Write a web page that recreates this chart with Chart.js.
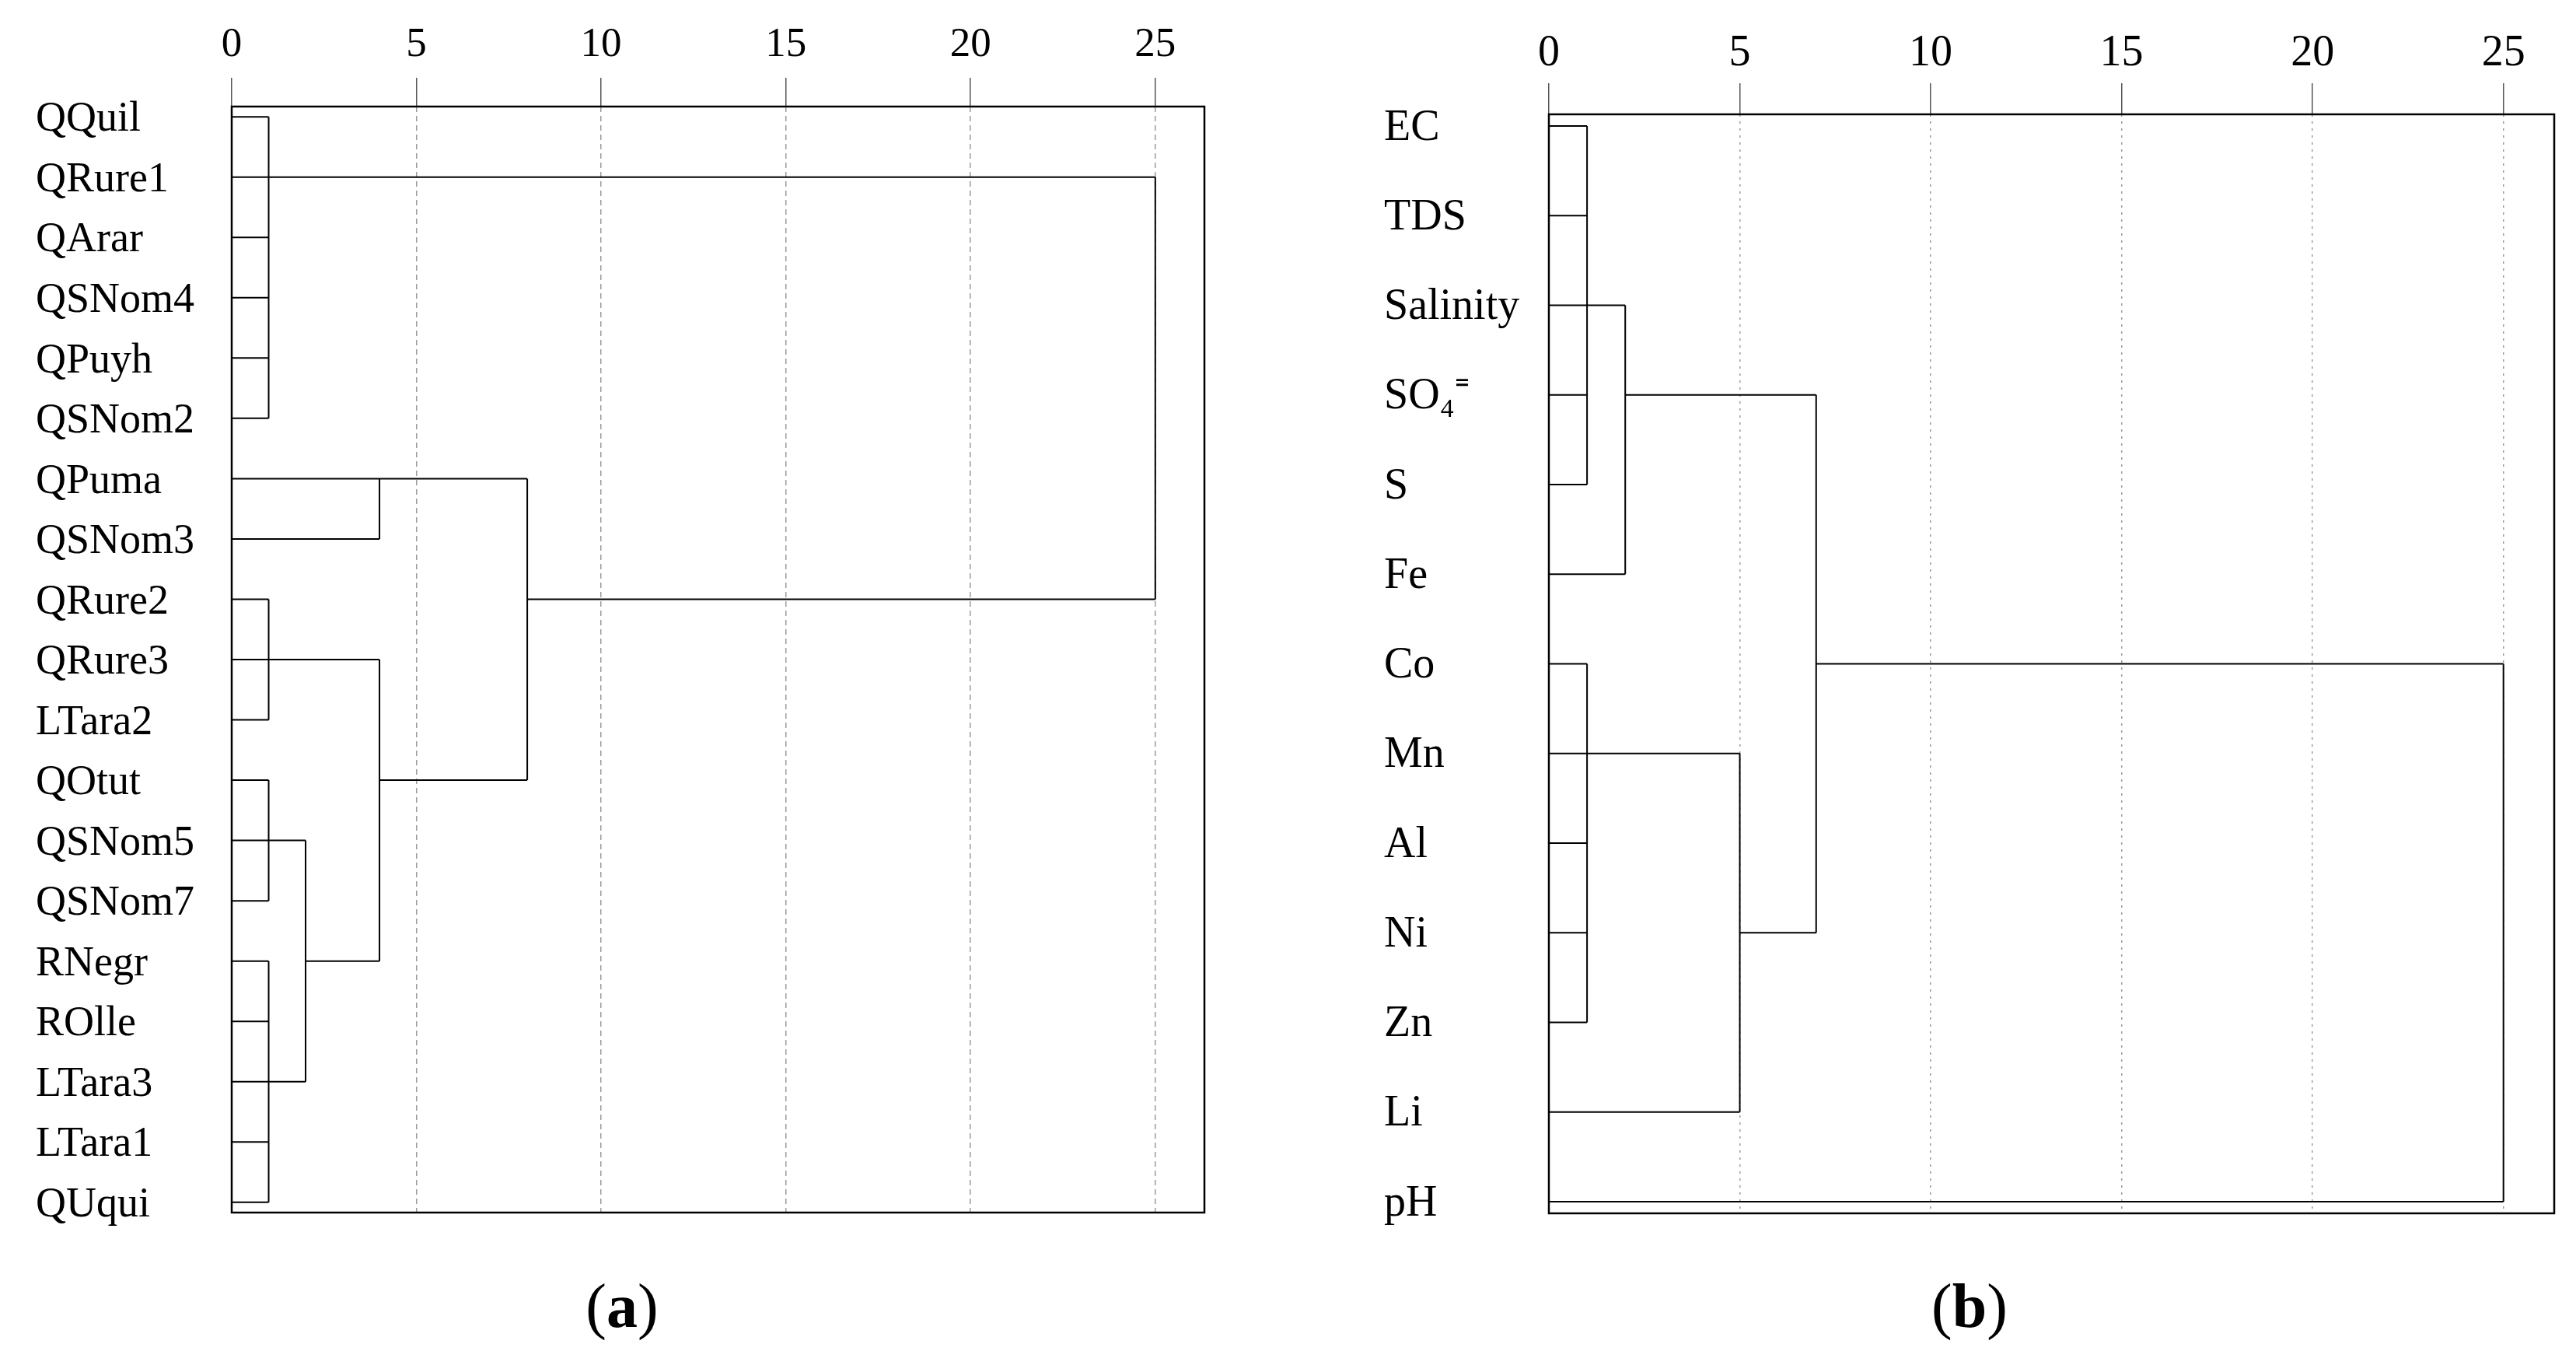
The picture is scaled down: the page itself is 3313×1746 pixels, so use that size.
<!DOCTYPE html>
<html lang="es">
<head>
<meta charset="utf-8">
<title>Dendrogramas</title>
<script src="https://cdn.jsdelivr.net/npm/chart.js@4.4.1/dist/chart.umd.min.js"></script>
<style>
    body { margin: 0; background: #fff; width: 3313px; height: 1746px; position: relative; overflow: hidden; }
    canvas { position: absolute; top: 0; }
    #graficoA { left: 0; }
    #graficoB { left: 1700px; }
    .leyenda {
        position: absolute; top: 1639px; width: 400px; text-align: center;
        font-family: 'Liberation Serif', serif; font-size: 80px; line-height: 80px; color: #000;
    }
</style>
</head>
<body>
<canvas id="graficoA" width="1600" height="1600"></canvas>
<canvas id="graficoB" width="1613" height="1600"></canvas>
<div class="leyenda" style="left:600px">(<b>a</b>)</div>
<div class="leyenda" style="left:2333px">(<b>b</b>)</div>
<script>
// Datos del panel (a): sitios de muestreo
const hojasA = ['QQuil', 'QRure1', 'QArar', 'QSNom4', 'QPuyh', 'QSNom2', 'QPuma', 'QSNom3',
    'QRure2', 'QRure3', 'LTara2', 'QOtut', 'QSNom5', 'QSNom7', 'RNegr', 'ROlle', 'LTara3', 'LTara1', 'QUqui'];
// cada unión: hojas (por nombre) o uniones anteriores (por índice)
const hijosA = [
    ['QQuil', 'QRure1', 'QArar', 'QSNom4', 'QPuyh', 'QSNom2'],
    ['QRure2', 'QRure3', 'LTara2'],
    ['QOtut', 'QSNom5', 'QSNom7'],
    ['RNegr', 'ROlle', 'LTara3', 'LTara1', 'QUqui'],
    ['QPuma', 'QSNom3'],
    [2, 3],
    [1, 5],
    [4, 6],
    [0, 7]
];
const alturasA = [1, 1, 1, 1, 4, 2, 4, 8, 25];
const filasA = [1, 9, 12, 16, 6, 14, 11, 8, null];

// Datos del panel (b): variables
const hojasB = ['EC', 'TDS', 'Salinity', 'SO₄⁼', 'S', 'Fe', 'Co', 'Mn', 'Al', 'Ni', 'Zn', 'Li', 'pH'];
const hijosB = [
    ['EC', 'TDS', 'Salinity', 'SO₄⁼', 'S'],
    ['Co', 'Mn', 'Al', 'Ni', 'Zn'],
    [0, 'Fe'],
    [1, 'Li'],
    [2, 3],
    [4, 'pH']
];
const alturasB = [1, 1, 2, 5, 7, 25];
const filasB = [2, 7, 3, 9, 6, null];

const marcasX = [0, 5, 10, 15, 20, 25];
const maxDistancia = 26.33;

function construirSegmentos(hojas, hijos, alturas, filas) {
    const segmentos = [];
    hijos.forEach((grupo, m) => {
        const h = alturas[m];
        const ys = grupo.map(c => typeof c === 'string' ? hojas.indexOf(c) : filas[c]);
        const xs = grupo.map(c => typeof c === 'string' ? 0 : alturas[c]);
        grupo.forEach((c, k) => {
            segmentos.push([{ x: xs[k], y: ys[k] }, { x: h, y: ys[k] }]);
        });
        segmentos.push([{ x: h, y: Math.min(...ys) }, { x: h, y: Math.max(...ys) }]);
    });
    return segmentos;
}

const marcoPlugin = {
    id: 'marco',
    afterDraw(chart) {
        const { ctx, chartArea } = chart;
        ctx.save();
        ctx.strokeStyle = '#000';
        ctx.lineWidth = 2.5;
        ctx.strokeRect(chartArea.left, chartArea.top, chartArea.right - chartArea.left, chartArea.bottom - chartArea.top);
        ctx.restore();
    }
};

function crearDendrograma(canvasId, hojas, hijos, alturas, filas, conf) {
    const segmentos = construirSegmentos(hojas, hijos, alturas, filas);
    const datasets = segmentos.map(s => ({
        data: s,
        showLine: true,
        borderColor: '#000',
        borderWidth: 2,
        pointRadius: 0,
        clip: false
    }));

    return new Chart(document.getElementById(canvasId), {
        type: 'scatter',
        data: { datasets },
        plugins: [marcoPlugin],
        options: {
            responsive: false,
            animation: false,
            devicePixelRatio: 1,
            events: [],
            layout: { padding: conf.relleno },
            plugins: { legend: { display: false }, tooltip: { enabled: false } },
            scales: {
                x: {
                    type: 'linear',
                    position: 'top',
                    min: 0,
                    max: maxDistancia,
                    afterBuildTicks: scale => { scale.ticks = marcasX.map(v => ({ value: v })); },
                    afterFit: scale => { scale.height = conf.altoEje; scale.paddingLeft = 0; scale.paddingRight = 0; },
                    ticks: {
                        color: '#000',
                        padding: conf.rellenoMarcas,
                        maxRotation: 0,
                        font: { family: 'Liberation Serif', size: conf.fuenteMarcas }
                    },
                    grid: {
                        color: '#9a9a9a',
                        lineWidth: 1.5,
                        tickLength: conf.largoMarca,
                        tickColor: '#555',
                        tickWidth: 1.5
                    },
                    border: { display: false, dash: conf.guiones }
                },
                y: {
                    type: 'linear',
                    reverse: true,
                    min: -conf.margenFila,
                    max: hojas.length - 1 + conf.margenFila,
                    afterBuildTicks: scale => { scale.ticks = hojas.map((_, i) => ({ value: i })); },
                    afterFit: scale => { scale.width = conf.anchoEje; scale.paddingTop = 0; scale.paddingBottom = 0; },
                    ticks: {
                        color: '#000',
                        crossAlign: 'far',
                        autoSkip: false,
                        labelOffset: conf.desfaseEtiquetas,
                        callback: v => hojas[v],
                        font: { family: 'Liberation Serif', size: conf.fuenteEtiquetas }
                    },
                    grid: { display: false },
                    border: { display: false }
                }
            }
        }
    });
}

crearDendrograma('graficoA', hojasA, hijosA, alturasA, filasA, {
    relleno: { left: 46, top: 0, right: 51, bottom: 41 },
    anchoEje: 252,
    altoEje: 137,
    largoMarca: 37,
    rellenoMarcas: 10,
    fuenteMarcas: 53,
    fuenteEtiquetas: 54,
    desfaseEtiquetas: 4,
    guiones: [7, 5],
    margenFila: 0.17
});

crearDendrograma('graficoB', hojasB, hijosB, alturasB, filasB, {
    relleno: { left: 80, top: 0, right: 28, bottom: 40 },
    anchoEje: 212,
    altoEje: 147,
    largoMarca: 40,
    rellenoMarcas: 4,
    fuenteMarcas: 56,
    fuenteEtiquetas: 56,
    desfaseEtiquetas: 3,
    guiones: [3, 6],
    margenFila: 0.13
});
</script>
</body>
</html>
